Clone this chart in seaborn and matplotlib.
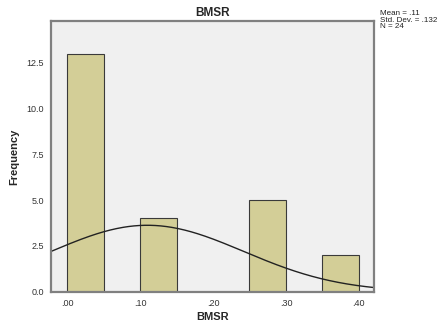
import numpy as np
import pandas as pd
import seaborn as sns
import matplotlib
matplotlib.use("Agg")
import matplotlib.pyplot as plt

# Data
bin_left = [0.00, 0.10, 0.25, 0.35]
counts = [13, 4, 5, 2]
mean_val = 0.11
sd_val = 0.132
n_val = 24
bin_width = 0.05
x_ticks = [0.0, 0.1, 0.2, 0.3, 0.4]
x_tick_labels = [".00", ".10", ".20", ".30", ".40"]
y_ticks = [0.0, 2.5, 5.0, 7.5, 10.0, 12.5]

sns.set_style("white")
plt.rcParams["font.family"] = ["Liberation Sans", "DejaVu Sans"]

fig = plt.figure(figsize=(4.44, 3.29), dpi=100)
ax = fig.add_axes([0.114, 0.1134, 0.728, 0.8216])
ax.set_facecolor("#F0F0F0")

df = pd.DataFrame({"x": [b + bin_width / 2 for b in bin_left], "w": counts})
sns.histplot(data=df, x="x", weights="w", binwidth=bin_width, binrange=(0.0, 0.40),
             color="#D3CE97", alpha=1.0, edgecolor="#3a3a3a", linewidth=0.8, ax=ax)

xs = np.linspace(-0.0226, 0.4205, 300)
ys = n_val * bin_width * np.exp(-0.5 * ((xs - mean_val) / sd_val) ** 2) / (sd_val * np.sqrt(2 * np.pi))
sns.lineplot(x=xs, y=ys, color="#222222", linewidth=1.0, ax=ax)

ax.set_xlim(-0.0226, 0.4205)
ax.set_ylim(0, 14.76)
ax.set_xticks(x_ticks)
ax.set_xticklabels(x_tick_labels)
ax.set_yticks(y_ticks)
ax.set_yticklabels([f"{v:.1f}" for v in y_ticks])
ax.tick_params(axis="both", direction="out", length=3, width=0.8, color="#555555",
               labelsize=6.5, labelcolor="#333333", pad=2)
for s in ax.spines.values():
    s.set_color("#808080")
    s.set_linewidth(1.6)

ax.set_xlabel("BMSR", fontsize=8, fontweight="bold", labelpad=3)
ax.set_ylabel("Frequency", fontsize=8, fontweight="bold", labelpad=5)
ax.set_title("BMSR", fontsize=8.5, fontweight="bold", pad=4)

fig.text(0.856, 0.97, f"Mean = .11\nStd. Dev. = .132\nN = {n_val}", fontsize=5.8,
         va="top", ha="left", color="#222222", linespacing=0.95)

fig.savefig("out.png", dpi=100)
